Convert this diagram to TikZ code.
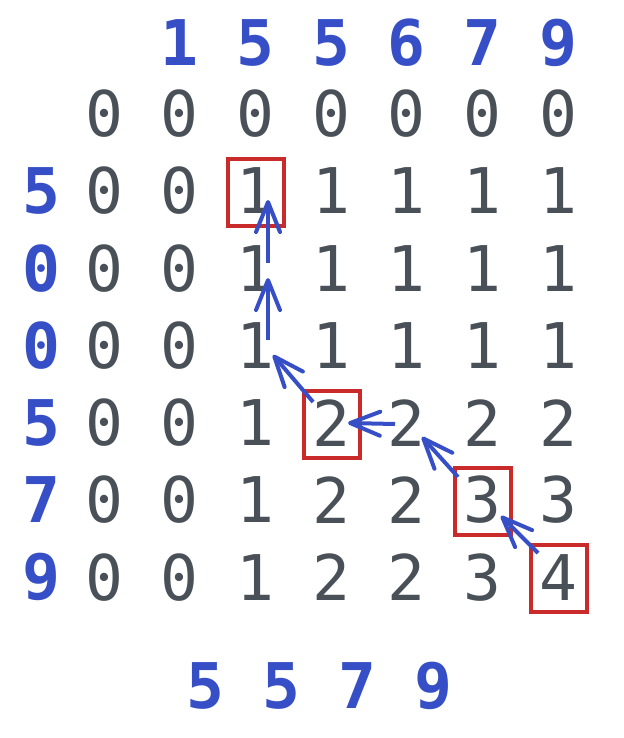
\documentclass[tikz,border=0pt]{standalone}
\usepackage{fontspec}
\setmonofont{DejaVu Sans Mono}
\usetikzlibrary{arrows.meta}
\definecolor{digitgray}{HTML}{495057}
\definecolor{seqblue}{HTML}{364FC7}
\definecolor{hitred}{HTML}{C92A2A}
\begin{document}
\begin{tikzpicture}[x=0.5pt,y=-0.5pt,
	cell/.style={text=digitgray,font=\ttfamily\fontsize{31.5}{36}\selectfont,inner sep=0pt},
	seq/.style={text=seqblue,font=\ttfamily\bfseries\fontsize{31.5}{36}\selectfont,inner sep=0pt},
	hit/.style={draw=hitred,line width=2pt},
	trace/.style={draw=seqblue,line width=2pt,-{Straight Barb[length=15pt,width=12pt,round]}}]
\useasboundingbox (0,0) rectangle (623,738);
%%% Top sequence
\foreach \v [count=\i from 1] in {1,5,5,6,7,9}
{
	\node[seq] (top-\i) at (104+75.7*\i,43) {\v};
}
%%% Left sequence
\foreach \v [count=\i from 1] in {5,0,0,5,7,9}
{
	\node[seq] (left-\i) at (41,113.5+77.3*\i) {\v};
}
%%% Table
\foreach \row [count=\r from 0] in {{0,0,0,0,0,0,0},{0,0,1,1,1,1,1},{0,0,1,1,1,1,1},{0,0,1,1,1,1,1},{0,0,1,2,2,2,2},{0,0,1,2,2,3,3},{0,0,1,2,2,3,4}}
{
	\foreach \v [count=\c from 0] in \row
	{
		\node[cell] (c-\r-\c) at (104+75.7*\c,113.5+77.3*\r) {\v};
	}
}
%%% Matched cells
\foreach \r/\c in {1/2,4/3,5/5,6/6}
{
	\draw[hit] (c-\r-\c.center) ++(-27.5,-32) rectangle ++(56,67);
}
%%% Trace back
\draw[trace] ([shift={(12.6,-5)}]c-2-2.center) -- ([shift={(12.6,9.2)}]c-1-2.center);
\draw[trace] ([shift={(12.6,-5.4)}]c-3-2.center) -- ([shift={(12.6,10)}]c-2-2.center);
\draw[trace] ([shift={(-18,-20.7)}]c-4-3.center) -- ([shift={(17.6,9.6)}]c-3-2.center);
\draw[trace] ([shift={(-11.8,1.3)}]c-4-4.center) -- ([shift={(17,0.3)}]c-4-3.center);
\draw[trace] ([shift={(-24.5,-23)}]c-5-5.center) -- ([shift={(15.2,14.3)}]c-4-4.center);
\draw[trace] ([shift={(-20.2,-24.3)}]c-6-6.center) -- ([shift={(18.5,16)}]c-5-5.center);
%%% Result
\foreach \v [count=\i from 0] in {5,5,7,9}
{
	\node[seq] (res-\i) at (205.5+75.9*\i,686) {\v};
}
\end{tikzpicture}
\end{document}
